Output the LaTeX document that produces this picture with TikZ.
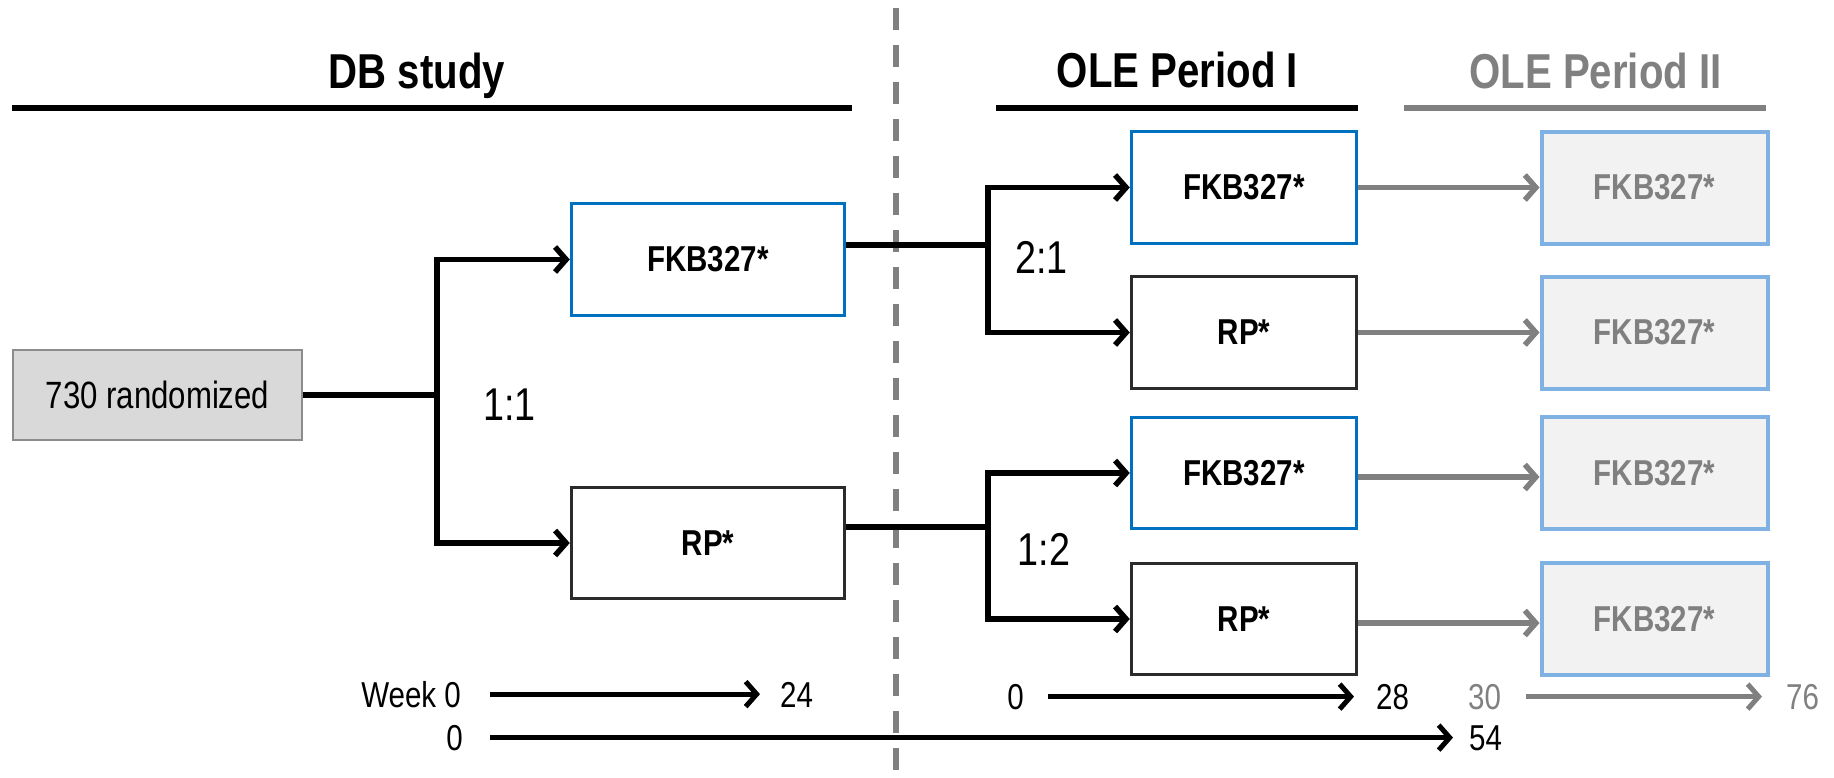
\documentclass[tikz,border=0pt]{standalone}
\usepackage{fontspec}
\setmainfont{Liberation Sans}[FakeStretch=0.82]
\usetikzlibrary{arrows.meta,calc}
\definecolor{boxblue}{HTML}{0070C0}
\definecolor{paleblue}{HTML}{7FB2E2}
\definecolor{midgray}{HTML}{808080}
\definecolor{randfill}{HTML}{D9D9D9}
\definecolor{randedge}{HTML}{8C8C8C}
\definecolor{palefill}{HTML}{F2F2F2}
\definecolor{darkedge}{HTML}{2B2B2B}
\tikzset{
  tip/.tip={Straight Barb[length=11pt,width=25pt]},
  conn/.style={line width=5.5pt,black},
  arr/.style={conn,-tip},
  garr/.style={line width=5.5pt,midgray,-tip},
  tarr/.style={line width=5pt,black,-tip},
  tgarr/.style={line width=5pt,midgray,-tip},
  bluebox/.style={draw=boxblue,line width=3.5pt,fill=white,inner sep=0pt,
     font=\bfseries\fontsize{36}{40}\selectfont},
  blackbox/.style={draw=darkedge,line width=3.5pt,fill=white,inner sep=0pt,
     font=\bfseries\fontsize{36}{40}\selectfont},
  palebox/.style={draw=paleblue,line width=4pt,fill=palefill,inner sep=0pt,
     text=midgray,font=\bfseries\fontsize{36}{40}\selectfont,
     minimum width=226pt,minimum height=112pt},
  title/.style={inner sep=0pt,anchor=base,font=\bfseries\fontsize{49}{52}\selectfont},
  ratio/.style={inner sep=0pt,anchor=base,font=\fontsize{46}{50}\selectfont},
  tlab/.style={inner sep=0pt,font=\fontsize{36}{40}\selectfont},
}
\begin{document}
\begin{tikzpicture}[x=1pt,y=-1pt]
\useasboundingbox (0,0) rectangle (1834,777);
% dashed separator
\draw[midgray,line width=5.5pt,dash pattern=on 22pt off 15pt] (896,8) -- (896,777);

% titles
\node[title] (tdb) at (417,88) {DB study};
\node[title] (tole1) at (1177.5,87) {OLE Period I};
\node[title,text=midgray] (tole2) at (1595.5,88) {OLE Period II};
\draw[line width=5.5pt] (12,108) -- (852,108);
\draw[line width=5.5pt] (996,108) -- (1358,108);
\draw[line width=5.5pt,midgray] (1404,108) -- (1766,108);

% boxes
\node[draw=randedge,line width=2pt,fill=randfill,inner sep=0pt,
  minimum width=289pt,minimum height=90pt,font=\fontsize{38}{42}\selectfont]
  (rand) at (157.5,395) {730 randomized};
\node[bluebox,minimum width=273pt,minimum height=112pt] (dbF) at (708,259.5) {FKB327*};
\node[blackbox,minimum width=273pt,minimum height=111pt] (dbR) at (708,543) {RP*};

\node[bluebox,minimum width=225pt,minimum height=112pt] (o1F) at (1244,187.5) {FKB327*};
\node[blackbox,minimum width=225pt,minimum height=112pt] (o1R) at (1244,332.5) {RP*};
\node[bluebox,minimum width=225pt,minimum height=111pt] (o2F) at (1244,473) {FKB327*};
\node[blackbox,minimum width=225pt,minimum height=111pt] (o2R) at (1244,619) {RP*};

\node[palebox] (p1) at (1654.5,187.5) {FKB327*};
\node[palebox] (p2) at (1654.5,332.5) {FKB327*};
\node[palebox] (p3) at (1654.5,473) {FKB327*};
\node[palebox] (p4) at (1654.5,619) {FKB327*};

% ratio labels
\node[ratio] (r11) at (509.5,420) {1:1};
\node[ratio] (r21) at (1041.5,273) {2:1};
\node[ratio] (r12) at (1044,565) {1:2};

% connectors DB study
\coordinate (j1) at (437,395);
\draw[conn] (rand.east) -- (j1);
\draw[arr] (j1) |- (dbF.west);
\draw[arr] (j1) |- (dbR.west);

\coordinate (j2) at (988,245);
\draw[conn] (dbF.east |- j2) -- (j2);
\draw[arr] (j2) |- (o1F.west);
\draw[arr] (j2) |- (o1R.west);

\coordinate (j3) at (988,527);
\draw[conn] (dbR.east |- j3) -- (j3);
\draw[arr] (j3) |- (o2F.west);
\draw[arr] (j3) |- (o2R.west);

% period II arrows
\draw[garr] (o1F.east) -- (p1.west);
\draw[garr] (o1R.east) -- (p2.west);
\draw[garr] ([yshift=-4pt]o2F.east) -- ([yshift=-4pt]p3.west);
\draw[garr] ([yshift=-4pt]o2R.east) -- ([yshift=-4pt]p4.west);

% timelines
\node[tlab,anchor=base east] (w0) at (461,707) {Week 0};
\node[tlab,anchor=base west] (w24) at (780,707) {24};
\draw[tarr,shorten <=29pt,shorten >=20pt] (w0.east) -- (w0.east -| w24.west);

\node[tlab,anchor=base east] (a0) at (463,750) {0};
\node[tlab,anchor=base west] (a54) at (1469,750) {54};
\draw[tarr,shorten <=27pt,shorten >=16pt] (a0.east) -- (a0.east -| a54.west);

\node[tlab,anchor=base east] (b0) at (1024,709) {0};
\node[tlab,anchor=base west] (b28) at (1376,709) {28};
\draw[tarr,shorten <=24pt,shorten >=22pt] (b0.east) -- (b0.east -| b28.west);

\node[tlab,anchor=base west,text=midgray] (c30) at (1468,709) {30};
\node[tlab,anchor=base west,text=midgray] (c76) at (1786,709) {76};
\draw[tgarr,shorten <=25pt,shorten >=24pt] (c30.east) -- (c30.east -| c76.west);
\end{tikzpicture}
\end{document}
